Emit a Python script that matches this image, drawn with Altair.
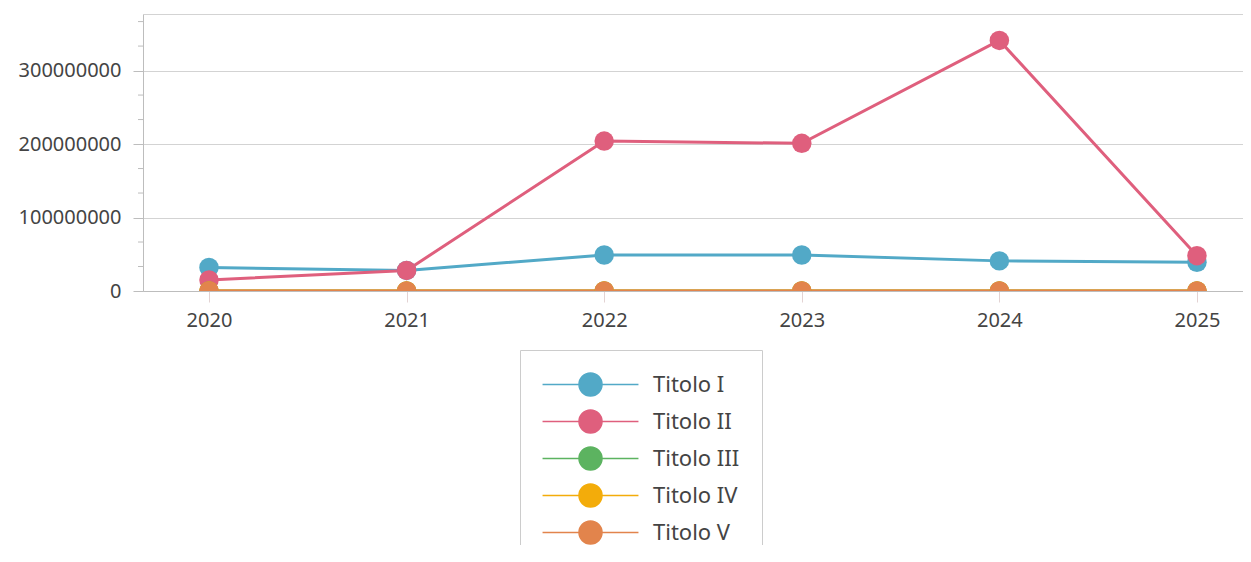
import altair as alt
import pandas as pd

years = [2020, 2021, 2022, 2023, 2024, 2025]
series_names = ["Titolo I", "Titolo II", "Titolo III", "Titolo IV", "Titolo V"]
titolo_i = [32000000, 28000000, 49000000, 49000000, 41000000, 39000000]
titolo_ii = [15000000, 28000000, 204000000, 201000000, 341000000, 48000000]
titolo_iii = [0, 0, 0, 0, 0, 0]
titolo_iv = [0, 0, 0, 0, 0, 0]
titolo_v = [0, 0, 0, 0, 0, 0]
colors = ["#52a9c7", "#df5f7d", "#5cb360", "#f3ac0a", "#e2844c"]
y_major = [0, 100000000, 200000000, 300000000, 377000000]
y_minor = [33333333, 66666667, 133333333, 166666667, 233333333, 266666667, 333333333, 366666667]

rows = []
for name, vals in zip(series_names, [titolo_i, titolo_ii, titolo_iii, titolo_iv, titolo_v]):
    for idx, (yr, v) in enumerate(zip(years, vals)):
        rows.append({"year": yr, "value": v, "series": name, "order": idx})
df = pd.DataFrame(rows)
minor_df = pd.DataFrame({"v": y_minor})

FONT = "Noto Sans"
# circle of radius 1 unit with line segments either side (unit = sqrt(size)/2)
SYMBOL = ("M-4.17,0L-1,0M1,0L4.17,0"
          "M-1,0A1,1 0 1,0 1,0A1,1 0 1,0 -1,0Z")

xscale = alt.Scale(domain=[2019.666, 2025.233], nice=False, zero=False)
yscale = alt.Scale(domain=[0, 377000000], nice=False)

color = alt.Color(
    "series:N",
    scale=alt.Scale(domain=series_names, range=colors),
    legend=alt.Legend(
        title=None, orient="none", legendX=377, legendY=336, direction="vertical",
        symbolType=SYMBOL, symbolSize=529, symbolStrokeWidth=1.5, symbolOffset=36,
        labelFont=FONT, labelFontSize=22, labelColor="#444", labelOffset=50,
        padding=22, rowPadding=8, strokeColor="#cccccc", fillColor="white",
        cornerRadius=0,
    ),
)

x = alt.X("year:Q", scale=xscale, axis=alt.Axis(
    values=years, format="d", title=None, grid=False, tickSize=11,
    tickColor="#e3d3d3", domainColor="#bdbdbd", labelFont=FONT, labelFontSize=20,
    labelColor="#444", labelPadding=8))
y = alt.Y("value:Q", scale=yscale, axis=alt.Axis(
    values=y_major, format="d", title=None, tickSize=10, tickColor="#bdbdbd",
    domainColor="#bdbdbd", gridColor="#d3d3d3", labelFont=FONT, labelFontSize=20,
    labelColor="#444", labelPadding=12,
    labelExpr="datum.value > 350000000 ? '' : datum.label",
    tickOpacity={"condition": {"test": "datum.value > 350000000", "value": 0}, "value": 1}))

base = alt.Chart(df).encode(x=x, y=y, color=color, order="order:Q")
lines = base.mark_line(strokeWidth=3, clip=True)
points = base.mark_point(filled=True, size=380, opacity=1, shape="circle", clip=True)

minor = alt.Chart(minor_df).mark_rule(color="#bdbdbd", strokeWidth=1).encode(
    y=alt.Y("v:Q", scale=yscale), x=alt.value(-5), x2=alt.value(0))

chart = alt.layer(lines, points, minor).properties(
    width=1100, height=277,
    autosize=alt.AutoSizeParams(type="none"),
    padding={"left": 135, "top": 6, "right": 0, "bottom": 254},
).configure_view(stroke=None)

chart.save("out.html", embed_options={"renderer": "svg", "actions": False})
